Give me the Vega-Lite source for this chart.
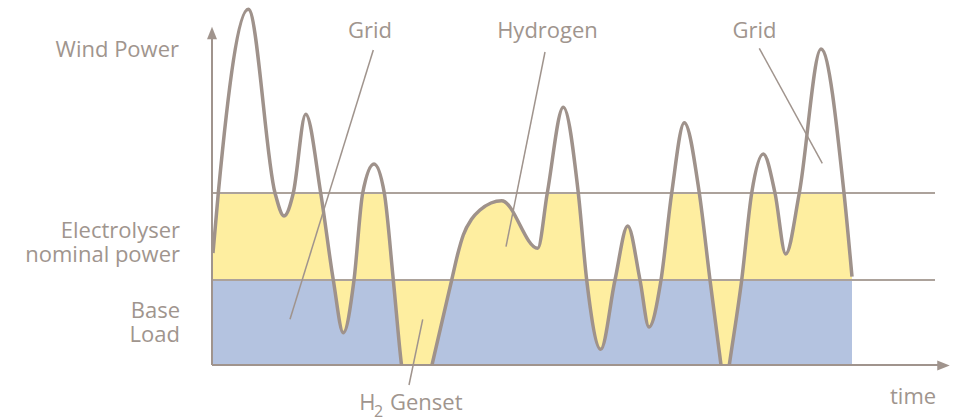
{
  "$schema": "https://vega.github.io/schema/vega-lite/v6.json",
  "width": 742,
  "height": 365,
  "autosize": {"type": "none"},
  "padding": {"left": 213, "top": 0, "right": 0, "bottom": 54},
  "background": "white",
  "config": {"view": {"stroke": null}},
  "datasets": {
    "wind": [
      {"time": 0, "power": 112, "base": 85},
      {"time": 5.3, "power": 172, "base": 85},
      {"time": 35.3, "power": 355.7, "base": 85},
      {"time": 62, "power": 172, "base": 85},
      {"time": 71, "power": 149, "base": 85},
      {"time": 80.3, "power": 172, "base": 85},
      {"time": 92.7, "power": 250.7, "base": 85},
      {"time": 107.7, "power": 172, "base": 85},
      {"time": 120.3, "power": 85, "base": 85},
      {"time": 130.3, "power": 32.3, "base": 85},
      {"time": 141, "power": 85, "base": 85},
      {"time": 149.7, "power": 172, "base": 85},
      {"time": 161, "power": 201, "base": 85},
      {"time": 171.3, "power": 172, "base": 85},
      {"time": 180.3, "power": 85, "base": 85},
      {"time": 188.5, "power": 0, "base": 85},
      {"time": 203.5, "power": -70, "base": 85},
      {"time": 219, "power": 0, "base": 85},
      {"time": 238.7, "power": 85, "base": 85},
      {"time": 245, "power": 112, "base": 85},
      {"time": 250.3, "power": 130, "base": 85},
      {"time": 258.7, "power": 146, "base": 85},
      {"time": 267, "power": 155, "base": 85},
      {"time": 278, "power": 162, "base": 85},
      {"time": 288.7, "power": 164.3, "base": 85},
      {"time": 324.7, "power": 116.7, "base": 85},
      {"time": 334.3, "power": 172, "base": 85},
      {"time": 350.3, "power": 257.7, "base": 85},
      {"time": 365.3, "power": 172, "base": 85},
      {"time": 373.7, "power": 85, "base": 85},
      {"time": 387.7, "power": 15.7, "base": 85},
      {"time": 402, "power": 85, "base": 85},
      {"time": 414.7, "power": 139, "base": 85},
      {"time": 427, "power": 85, "base": 85},
      {"time": 436, "power": 38, "base": 85},
      {"time": 448, "power": 85, "base": 85},
      {"time": 458.7, "power": 172, "base": 85},
      {"time": 471.3, "power": 242.3, "base": 85},
      {"time": 486.3, "power": 172, "base": 85},
      {"time": 497, "power": 85, "base": 85},
      {"time": 508, "power": 0, "base": 85},
      {"time": 512, "power": -30, "base": 85},
      {"time": 516.3, "power": 0, "base": 85},
      {"time": 528.7, "power": 85, "base": 85},
      {"time": 538.7, "power": 172, "base": 85},
      {"time": 550.3, "power": 211, "base": 85},
      {"time": 562, "power": 172, "base": 85},
      {"time": 572.7, "power": 111, "base": 85},
      {"time": 586.3, "power": 172, "base": 85},
      {"time": 608, "power": 316, "base": 85},
      {"time": 631, "power": 172, "base": 85},
      {"time": 639, "power": 88.3, "base": 85}
    ],
    "levels": [
      {"level": "base", "value": 85, "floor": 0, "start": 0, "end": 639, "lineEnd": 722},
      {"level": "electrolyser", "value": 172, "ceiling": 365, "start": 0, "end": 640, "lineEnd": 722}
    ],
    "axes": [
      {"axis": "power", "t1": -1, "p1": 0, "t2": -1, "p2": 332},
      {"axis": "time", "t1": -1, "p1": 0, "t2": 728, "p2": 0}
    ],
    "arrows": [
      {"axis": "power", "t": -1, "p": 332},
      {"axis": "time", "t": 730.5, "p": -0.5}
    ],
    "leaders": [
      {"t1": 160.3, "p1": 315, "t2": 77, "p2": 45.7},
      {"t1": 332, "p1": 313, "t2": 293, "p2": 118.3},
      {"t1": 546.3, "p1": 316.7, "t2": 609.3, "p2": 201.7},
      {"t1": 209.7, "p1": 45.7, "t2": 196, "p2": -20}
    ],
    "axisLabels": [
      {"t": -34, "p": 308, "text": ["Wind Power"]},
      {"t": -33, "p": 127, "text": ["Electrolyser", "nominal power"]},
      {"t": -33, "p": 47, "text": ["Base", "Load"]}
    ],
    "topLabels": [
      {"t": 157, "p": 327, "text": "Grid"},
      {"t": 334.5, "p": 327, "text": "Hydrogen"},
      {"t": 541.5, "p": 327, "text": "Grid"}
    ],
    "bottomLabels": [
      {"t": 146.3, "p": -45, "text": "H"},
      {"t": 177, "p": -45, "text": "Genset"},
      {"t": 677, "p": -39, "text": "time"}
    ],
    "subLabels": [
      {"t": 161, "p": -52, "text": "2"}
    ]
  },
  "layer": [
    {
      "data": {"name": "levels"},
      "transform": [{"filter": "datum.level == 'base'"}],
      "mark": {"type": "rect", "color": "#b4c3e0"},
      "encoding": {
        "x": {"field": "start", "type": "quantitative", "scale": {"domain": [0, 742], "nice": false, "zero": false}, "axis": null},
        "x2": {"field": "end"},
        "y": {"field": "floor", "type": "quantitative", "scale": {"domain": [0, 365], "nice": false, "zero": false}, "axis": null},
        "y2": {"field": "value"}
      }
    },
    {
      "data": {"name": "wind"},
      "mark": {"type": "area", "color": "#feeea0", "interpolate": "monotone", "clip": true},
      "encoding": {
        "x": {"field": "time", "type": "quantitative", "scale": {"domain": [0, 742], "nice": false, "zero": false}, "axis": null},
        "y": {"field": "power", "type": "quantitative", "scale": {"domain": [0, 365], "nice": false, "zero": false}, "axis": null, "stack": null},
        "y2": {"field": "base"}
      }
    },
    {
      "data": {"name": "levels"},
      "transform": [{"filter": "datum.level == 'electrolyser'"}],
      "mark": {"type": "rect", "color": "white"},
      "encoding": {
        "x": {"field": "start", "type": "quantitative", "scale": {"domain": [0, 742], "nice": false, "zero": false}, "axis": null},
        "x2": {"field": "end"},
        "y": {"field": "value", "type": "quantitative", "scale": {"domain": [0, 365], "nice": false, "zero": false}, "axis": null},
        "y2": {"field": "ceiling"}
      }
    },
    {
      "data": {"name": "levels"},
      "mark": {"type": "rule", "color": "#aca29b", "strokeWidth": 2},
      "encoding": {
        "x": {"field": "start", "type": "quantitative", "scale": {"domain": [0, 742], "nice": false, "zero": false}, "axis": null},
        "x2": {"field": "lineEnd"},
        "y": {"field": "value", "type": "quantitative", "scale": {"domain": [0, 365], "nice": false, "zero": false}, "axis": null},
        "y2": {"field": "value"}
      }
    },
    {
      "data": {"name": "axes"},
      "mark": {"type": "rule", "color": "#a0948d", "strokeWidth": 2},
      "encoding": {
        "x": {"field": "t1", "type": "quantitative", "scale": {"domain": [0, 742], "nice": false, "zero": false}, "axis": null},
        "y": {"field": "p1", "type": "quantitative", "scale": {"domain": [0, 365], "nice": false, "zero": false}, "axis": null},
        "x2": {"field": "t2"},
        "y2": {"field": "p2"}
      }
    },
    {
      "data": {"name": "arrows"},
      "mark": {"type": "point", "filled": true, "size": 156, "opacity": 1, "strokeWidth": 0, "color": "#a0948d"},
      "encoding": {
        "x": {"field": "t", "type": "quantitative", "scale": {"domain": [0, 742], "nice": false, "zero": false}, "axis": null},
        "y": {"field": "p", "type": "quantitative", "scale": {"domain": [0, 365], "nice": false, "zero": false}, "axis": null},
        "shape": {"field": "axis", "type": "nominal", "scale": {"domain": ["power", "time"], "range": ["M0,-1L0.8,1L-0.8,1Z", "M1,0L-1,-0.8L-1,0.8Z"]}, "legend": null}
      }
    },
    {
      "data": {"name": "wind"},
      "mark": {"type": "line", "color": "#9f928b", "strokeWidth": 3.5, "interpolate": "monotone", "clip": true},
      "encoding": {
        "x": {"field": "time", "type": "quantitative", "scale": {"domain": [0, 742], "nice": false, "zero": false}, "axis": null},
        "y": {"field": "power", "type": "quantitative", "scale": {"domain": [0, 365], "nice": false, "zero": false}, "axis": null}
      }
    },
    {
      "data": {"name": "leaders"},
      "mark": {"type": "rule", "color": "#a0948d", "strokeWidth": 1.5},
      "encoding": {
        "x": {"field": "t1", "type": "quantitative", "scale": {"domain": [0, 742], "nice": false, "zero": false}, "axis": null},
        "y": {"field": "p1", "type": "quantitative", "scale": {"domain": [0, 365], "nice": false, "zero": false}, "axis": null},
        "x2": {"field": "t2"},
        "y2": {"field": "p2"}
      }
    },
    {
      "data": {"name": "axisLabels"},
      "mark": {"type": "text", "align": "right", "baseline": "alphabetic", "font": "Open Sans", "fontSize": 22, "lineHeight": 24, "color": "#a0958e"},
      "encoding": {
        "x": {"field": "t", "type": "quantitative", "scale": {"domain": [0, 742], "nice": false, "zero": false}, "axis": null},
        "y": {"field": "p", "type": "quantitative", "scale": {"domain": [0, 365], "nice": false, "zero": false}, "axis": null},
        "text": {"field": "text"}
      }
    },
    {
      "data": {"name": "topLabels"},
      "mark": {"type": "text", "align": "center", "baseline": "alphabetic", "font": "Open Sans", "fontSize": 22, "color": "#a0958e"},
      "encoding": {
        "x": {"field": "t", "type": "quantitative", "scale": {"domain": [0, 742], "nice": false, "zero": false}, "axis": null},
        "y": {"field": "p", "type": "quantitative", "scale": {"domain": [0, 365], "nice": false, "zero": false}, "axis": null},
        "text": {"field": "text", "type": "nominal"}
      }
    },
    {
      "data": {"name": "bottomLabels"},
      "mark": {"type": "text", "align": "left", "baseline": "alphabetic", "font": "Open Sans", "fontSize": 22, "color": "#a0958e"},
      "encoding": {
        "x": {"field": "t", "type": "quantitative", "scale": {"domain": [0, 742], "nice": false, "zero": false}, "axis": null},
        "y": {"field": "p", "type": "quantitative", "scale": {"domain": [0, 365], "nice": false, "zero": false}, "axis": null},
        "text": {"field": "text", "type": "nominal"}
      }
    },
    {
      "data": {"name": "subLabels"},
      "mark": {"type": "text", "align": "left", "baseline": "alphabetic", "font": "Open Sans", "fontSize": 16, "color": "#a0958e"},
      "encoding": {
        "x": {"field": "t", "type": "quantitative", "scale": {"domain": [0, 742], "nice": false, "zero": false}, "axis": null},
        "y": {"field": "p", "type": "quantitative", "scale": {"domain": [0, 365], "nice": false, "zero": false}, "axis": null},
        "text": {"field": "text", "type": "nominal"}
      }
    }
  ]
}
